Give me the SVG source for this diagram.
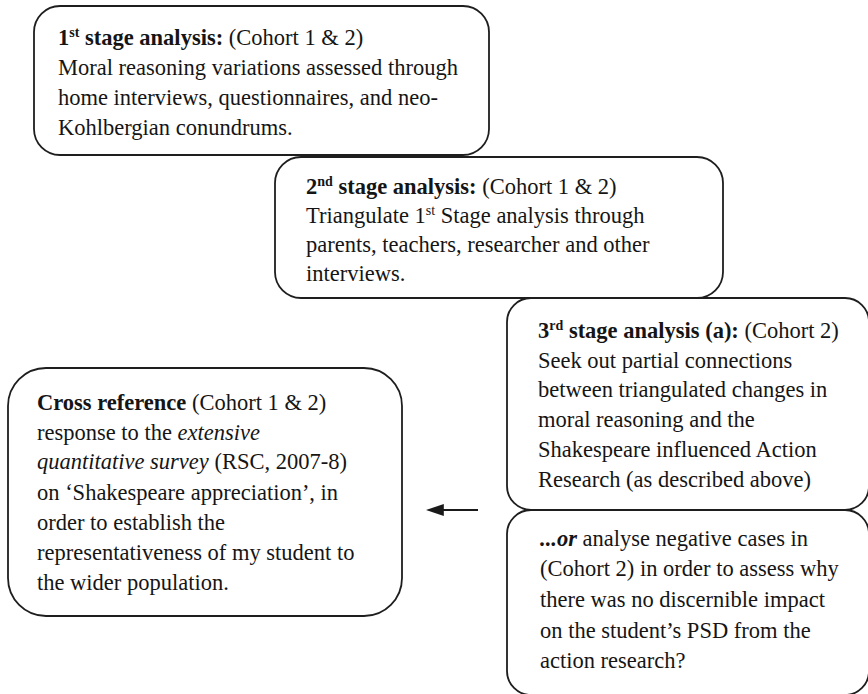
<svg xmlns="http://www.w3.org/2000/svg" width="868" height="694" viewBox="0 0 868 694">
  <style>
    .box { fill: #ffffff; stroke: #1e1e1e; stroke-width: 1.8; }
    text { font-family: "Liberation Serif", "Times New Roman", serif; font-size: 22.5px; fill: #151515; }
    .b { font-weight: bold; }
    .i { font-style: italic; }
    .sup { font-size: 14px; }
    .conn { stroke: #1a1a1a; stroke-width: 1.8; fill: none; }
  </style>
  <defs>
    <marker id="arrowhead" viewBox="0 0 10 10" refX="1" refY="5" markerWidth="18" markerHeight="12" markerUnits="userSpaceOnUse" orient="auto-start-reverse" preserveAspectRatio="none">
      <path d="M0,0 L10,5 L0,10 z" fill="#1a1a1a"/>
    </marker>
  </defs>
  <rect width="868" height="694" fill="#ffffff"/>

  <!-- first stage -->
  <g id="stage1">
    <rect class="box" x="34" y="6" width="455" height="149" rx="26" ry="26"/>
    <text x="58" y="45"><tspan class="b">1<tspan class="sup" dy="-8">st</tspan><tspan dy="8"> stage analysis:</tspan></tspan> (Cohort 1 &amp; 2)</text>
    <text x="58" y="75">Moral reasoning variations assessed through</text>
    <text x="58" y="105">home interviews, questionnaires, and neo-</text>
    <text x="58" y="135">Kohlbergian conundrums.</text>
  </g>

  <!-- second stage -->
  <g id="stage2">
    <rect class="box" x="275" y="157" width="448" height="141" rx="26" ry="26"/>
    <text x="306" y="194"><tspan class="b">2<tspan class="sup" dy="-8">nd</tspan><tspan dy="8"> stage analysis:</tspan></tspan> (Cohort 1 &amp; 2)</text>
    <text x="306" y="223">Triangulate 1<tspan class="sup" dy="-8">st</tspan><tspan dy="8"> Stage analysis through</tspan></text>
    <text x="306" y="252">parents, teachers, researcher and other</text>
    <text x="306" y="281">interviews.</text>
  </g>

  <!-- third stage, option a -->
  <g id="stage3a">
    <rect class="box" x="507" y="298" width="362" height="212" rx="24" ry="24"/>
    <text x="538" y="338"><tspan class="b">3<tspan class="sup" dy="-8">rd</tspan><tspan dy="8"> stage analysis (a):</tspan></tspan> (Cohort 2)</text>
    <text x="538" y="368">Seek out partial connections</text>
    <text x="538" y="397">between triangulated changes in</text>
    <text x="538" y="427">moral reasoning and the</text>
    <text x="538" y="457">Shakespeare influenced Action</text>
    <text x="538" y="487">Research (as described above)</text>
  </g>

  <!-- third stage, alternative -->
  <g id="stage3b">
    <rect class="box" x="507" y="510" width="362" height="185" rx="24" ry="24"/>
    <text x="540" y="546"><tspan class="b i">...or</tspan> analyse negative cases in</text>
    <text x="540" y="576">(Cohort 2) in order to assess why</text>
    <text x="540" y="607">there was no discernible impact</text>
    <text x="540" y="638">on the student’s PSD from the</text>
    <text x="540" y="668">action research?</text>
  </g>

  <!-- cross reference -->
  <g id="crossref">
    <rect class="box" x="8" y="368" width="394" height="248" rx="38" ry="38"/>
    <text x="37" y="410"><tspan class="b">Cross reference</tspan> (Cohort 1 &amp; 2)</text>
    <text x="37" y="440">response to the <tspan class="i">extensive</tspan></text>
    <text x="37" y="469"><tspan class="i">quantitative survey</tspan> (RSC, 2007-8)</text>
    <text x="37" y="500">on ‘Shakespeare appreciation’, in</text>
    <text x="37" y="530">order to establish the</text>
    <text x="37" y="560">representativeness of my student to</text>
    <text x="37" y="590">the wider population.</text>
  </g>

  <!-- connectors -->
  <g id="connectors">
    <line class="conn" x1="478" y1="510" x2="442" y2="510" marker-end="url(#arrowhead)"/>
  </g>
</svg>
